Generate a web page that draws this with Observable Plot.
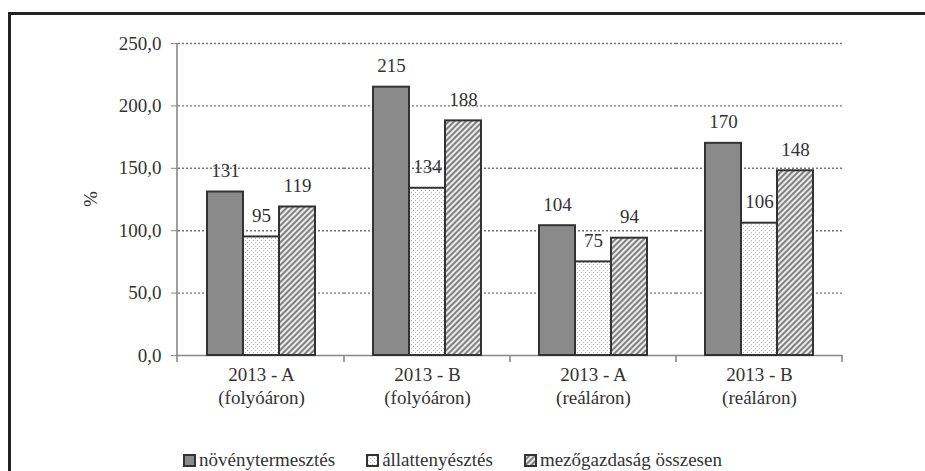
<!DOCTYPE html>
<html>
<head>
<meta charset="utf-8">
<script src="https://cdn.jsdelivr.net/npm/d3@7"></script>
<script src="https://cdn.jsdelivr.net/npm/@observablehq/plot@0.6"></script>
<style>
  html, body { margin: 0; padding: 0; background: #fff; overflow: hidden; }
  #page { position: relative; width: 925px; height: 471px; font-family: "Liberation Serif", "Times New Roman", "DejaVu Serif", serif; color: #333; }
  #frame { position: absolute; left: 8px; top: 12px; width: 930px; height: 470px; border-left: 3px solid #222; border-top: 3px solid #222; pointer-events: none; }
  #chart { position: absolute; left: 0; top: 0; }
  #ylabel { position: absolute; left: 90px; top: 199px; font-size: 19px; line-height: 19px; transform: translate(-50%, -50%) rotate(-90deg); color: #333; }
  #legend { position: absolute; left: 183px; top: 449px; height: 22px; display: flex; align-items: center; font-size: 19px; line-height: 22px; color: #333; white-space: nowrap; }
  .item { display: flex; align-items: center; margin-right: 31px; }
  .item svg { margin-right: 3px; }
</style>
</head>
<body>
<svg width="0" height="0" style="position:absolute">
  <defs>
    <pattern id="pDots" width="4" height="4" patternUnits="userSpaceOnUse">
      <rect width="4" height="4" fill="#fff"></rect>
      <rect x="0" y="0" width="1" height="1" fill="#b5b5b5"></rect>
      <rect x="2" y="2" width="1" height="1" fill="#b5b5b5"></rect>
    </pattern>
    <pattern id="pHatch" width="4" height="4" patternUnits="userSpaceOnUse" patternTransform="rotate(45)">
      <rect width="4" height="4" fill="#ebebeb"></rect>
      <line x1="1" y1="0" x2="1" y2="4" stroke="#666" stroke-width="1.6"></line>
    </pattern>
  </defs>
</svg>
<div id="page">
  <div id="frame"></div>
  <div id="chart"></div>
  <div id="ylabel"></div>
  <div id="legend"></div>
</div>
<script>
// ---- data ----
const groups = ["2013 - A\n(folyóáron)", "2013 - B\n(folyóáron)", "2013 - A\n(reáláron)", "2013 - B\n(reáláron)"];
const seriesNames = ["növénytermesztés", "állattenyésztés", "mezőgazdaság összesen"];
const plantValues = [131, 215, 104, 170];
const animalValues = [95, 134, 75, 106];
const totalValues = [119, 188, 94, 148];
const yTicks = [0, 50, 100, 150, 200, 250];
const yLabel = "%";

const seriesValues = [plantValues, animalValues, totalValues];
const seriesFill = ["#8a8a8a", "url(#pDots)", "url(#pHatch)"];
const rows = groups.flatMap((g, i) => seriesNames.map((s, j) => ({group: g, series: s, value: seriesValues[j][i], fill: seriesFill[j]})));

const fmt = d => d.toFixed(1).replace(".", ",");
const FONT = "'Liberation Serif', 'Times New Roman', 'DejaVu Serif', serif";

const plot = Plot.plot({
  width: 925,
  height: 449,
  marginLeft: 177,
  marginRight: 82,
  marginTop: 43,
  marginBottom: 94,
  style: {fontFamily: FONT, fontSize: "19px", color: "#333", background: "transparent", overflow: "visible"},
  fx: {domain: groups, padding: 0, label: null, tickSize: 0, tickPadding: 12},
  x: {domain: seriesNames, paddingInner: 0, paddingOuter: 0.75, axis: null},
  y: {domain: [0, 250], ticks: yTicks, tickFormat: fmt, tickSize: 7, tickPadding: 10, label: null},
  color: {type: "identity"},
  marks: [
    Plot.ruleY(yTicks.filter(t => t > 0), {stroke: "#777", strokeWidth: 1.4, strokeDasharray: "2,2"}),
    Plot.ruleY([0], {stroke: "#888", strokeWidth: 1.6}),
    Plot.barY(rows, {fx: "group", x: "series", y: "value", fill: "fill", stroke: "#333", strokeWidth: 2}),
    Plot.text(rows, {fx: "group", x: "series", y: "value", text: d => String(d.value), dy: -21, fill: "#333", fontSize: 19})
  ]
});
document.getElementById("chart").appendChild(plot);
document.getElementById("ylabel").textContent = yLabel;

// axis line and category boundary ticks, from the library's scales
const fx = plot.scale("fx");
const y = plot.scale("y");
const svg = d3.select(plot);
svg.selectAll("text").style("font-family", FONT);
const y0 = y.apply(0), yTop = y.apply(yTicks[yTicks.length - 1]);
const g = svg.append("g").attr("stroke", "#888").attr("stroke-width", 1.6);
g.append("line").attr("x1", fx.range[0]).attr("x2", fx.range[0]).attr("y1", yTop).attr("y2", y0 + 7);
groups.forEach(gr => {
  const xr = fx.apply(gr) + fx.bandwidth;
  g.append("line").attr("x1", xr).attr("x2", xr).attr("y1", y0).attr("y2", y0 + 7);
});
svg.selectAll("[aria-label='y-axis tick'] path, [aria-label='y-axis'] path").attr("stroke", "#888");

// widen line spacing of the two-line category labels
svg.selectAll("text").each(function() {
  const spans = d3.select(this).selectAll("tspan").nodes();
  if (spans.length < 2) return;
  spans.forEach((sp, i) => {
    if (i === 0) return;
    const s = d3.select(sp);
    if (s.attr("dy") != null) s.attr("dy", "1.2em");
    else if (s.attr("y") != null && String(s.attr("y")).endsWith("em")) s.attr("y", (i * 1.2) + "em");
  });
});

// legend
const legend = d3.select("#legend");
seriesNames.forEach((s, j) => {
  const it = legend.append("div").attr("class", "item");
  const sw = it.append("svg").attr("width", 13).attr("height", 13);
  sw.append("rect").attr("x", 1).attr("y", 1).attr("width", 11).attr("height", 11).attr("fill", seriesFill[j]).attr("stroke", "#333").attr("stroke-width", 2);
  it.append("span").text(s);
});
</script>
</body>
</html>
